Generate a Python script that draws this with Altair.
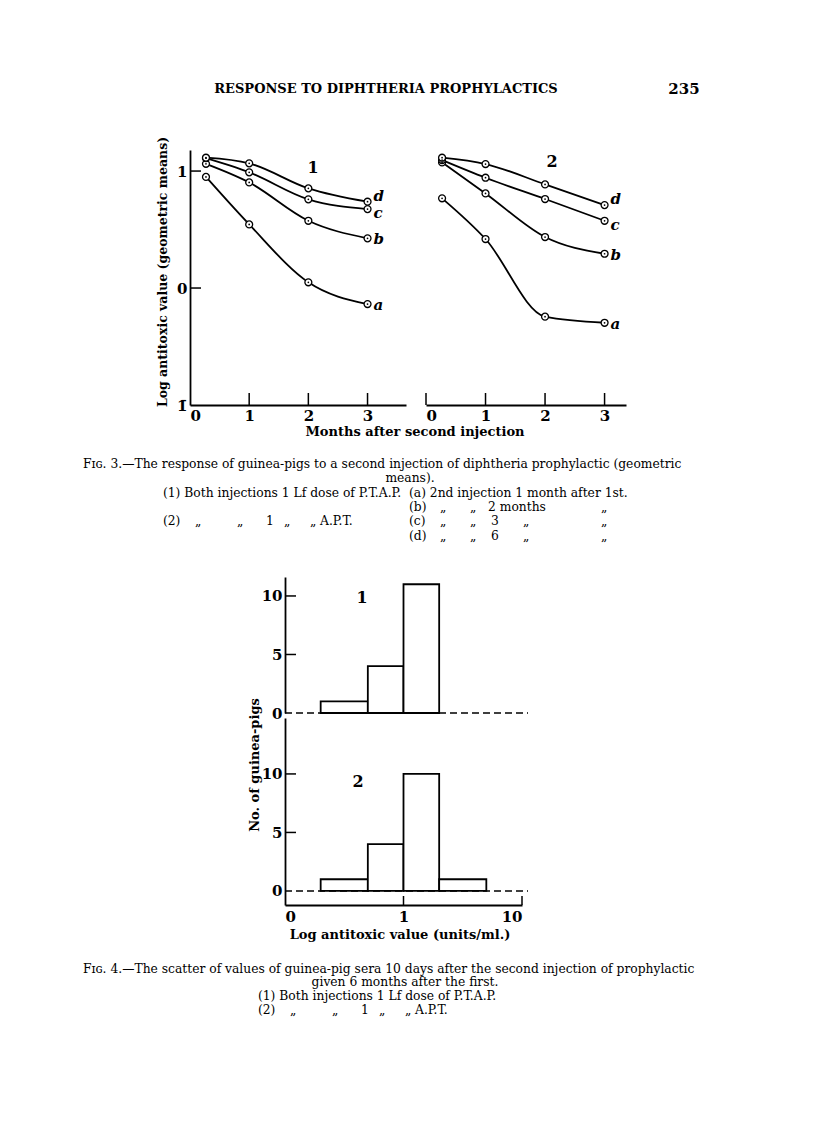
import altair as alt
import pandas as pd

SERIF = "DejaVu Serif"

# ---------------- Fig. 3 data (log antitoxic value, geometric means) ----------------
fig3_months = [0.27, 1, 2, 3]
fig3_series = ["a", "b", "c", "d"]
p1_a = [0.95, 0.544, 0.049, -0.137]
p1_b = [1.062, 0.903, 0.575, 0.425]
p1_c = [1.11, 0.989, 0.758, 0.675]
p1_d = [1.114, 1.066, 0.852, 0.738]
p2_a = [0.767, 0.419, -0.245, -0.297]
p2_b = [1.074, 0.809, 0.436, 0.293]
p2_c = [1.094, 0.943, 0.761, 0.575]
p2_d = [1.114, 1.06, 0.886, 0.709]
fig3_xticks = [0, 1, 2, 3]
fig3_yticks = [-1, 0, 1]
fig3_inner_yticks = [0, 1]

# ---------------- Fig. 4 data (histograms, units/ml on log axis) ----------------
fig4_edges_1 = [0.2, 0.5, 1, 2]
fig4_counts_1 = [1, 4, 11]
fig4_edges_2 = [0.2, 0.5, 1, 2, 5]
fig4_counts_2 = [1, 4, 10, 1]
fig4_xticks = [0.1, 1, 10]
fig4_yticks = [0, 5, 10]
fig4_inner_yticks = [5, 10]
fig4_baseline = [0]

CAP = 12.3
DITTO = "\u201e"


def txt(s, x, y, size=CAP, weight="normal", style="normal", align="left", angle=0):
    return alt.Chart(pd.DataFrame({"t": [s]})).mark_text(
        font=SERIF, fontSize=size, fontWeight=weight, fontStyle=style,
        align=align, baseline="middle", angle=angle, color="black"
    ).encode(text="t:N", x=alt.value(x), y=alt.value(y))


def curve_df(series_vals):
    rows = []
    for s, vals in zip(fig3_series, series_vals):
        for m, v in zip(fig3_months, vals):
            rows.append({"month": m, "value": v, "series": s})
    return pd.DataFrame(rows)


FIG3_H = 255
FIG3_X0 = 182
FIG3_YAXIS = alt.Axis(orient="left", offset=-FIG3_X0, values=fig3_yticks, ticks=False,
                      title=None, labelPadding=3, labelFontSize=15,
                      labelExpr="datum.value == -1 ? '1\u0304' : datum.label")
FIG3_Y = alt.Y("value:Q", scale=alt.Scale(domain=[-1, 1.18], nice=False, zero=False),
               axis=FIG3_YAXIS)
END_DY = {"a": 1, "b": 1, "c": 4, "d": -6}


def fig3_panel(series_vals, xrange, xmax, tick_vals, with_yticks):
    df = curve_df(series_vals)
    x = alt.X("month:Q",
              scale=alt.Scale(domain=[0, xmax], range=xrange, nice=False, zero=False),
              axis=alt.Axis(orient="bottom", values=fig3_xticks, ticks=False, title=None,
                            labelFontSize=15, labelPadding=3))
    y = FIG3_Y
    lines = alt.Chart(df).mark_line(interpolate="monotone", color="black", strokeWidth=1.8).encode(
        x=x, y=y, detail="series:N")
    pts = alt.Chart(df).mark_point(shape="circle", filled=True, fill="white", stroke="black",
                                   strokeWidth=1.3, size=48, opacity=1).encode(x=x, y=y)
    dots = alt.Chart(df).mark_point(shape="circle", filled=True, color="black", size=3,
                                    opacity=1).encode(x=x, y=y)
    last = df[df["month"] == 3]
    ticks = alt.Chart(pd.DataFrame({"month": tick_vals})).mark_rule(
        color="black", strokeWidth=1.5).encode(x=x, y=alt.value(FIG3_H), y2=alt.value(FIG3_H - 12))
    layers = [lines, ticks, pts, dots]
    for s in fig3_series:
        layers.append(alt.Chart(last[last["series"] == s]).mark_text(
            align="left", dx=6, dy=END_DY[s], font=SERIF, fontSize=15, fontStyle="italic",
            fontWeight="bold", color="black").encode(x=x, y=y, text="series:N"))
    if with_yticks:
        ytk = alt.Chart(pd.DataFrame({"value": fig3_inner_yticks})).mark_rule(
            color="black", strokeWidth=1.5).encode(
            y=y, x=alt.value(FIG3_X0), x2=alt.value(FIG3_X0 + 11))
        layers.append(ytk)
    return alt.layer(*layers)


FIG4_X0 = 277
FIG4_XRANGE = [FIG4_X0, FIG4_X0 + 237]
FIG4_XAXIS = alt.Axis(orient="bottom", values=fig4_xticks, ticks=False, title=None,
                      labelFontSize=15, labelPadding=4,
                      labelExpr="datum.value < 0.5 ? '0' : (datum.value < 5 ? '1' : '10')")
FIG4_X = alt.X("lo:Q", scale=alt.Scale(type="log", domain=[0.1, 10], range=FIG4_XRANGE, nice=False),
               axis=FIG4_XAXIS)


def fig4_panel(edges, counts, ydomain, yrange, xticks_inner):
    df = pd.DataFrame({"lo": edges[:-1], "hi": edges[1:], "n": counts,
                       "n0": fig4_baseline * len(counts)})
    x = FIG4_X
    y = alt.Y("n:Q", scale=alt.Scale(domain=ydomain, range=yrange, nice=False, zero=False),
              axis=alt.Axis(orient="left", offset=-FIG4_X0, values=fig4_yticks, ticks=False,
                            title=None, labelPadding=3, labelFontSize=15))
    base = alt.Chart(pd.DataFrame({"n": fig4_baseline})).mark_rule(
        color="black", strokeWidth=1.4, strokeDash=[7, 4]).encode(
        x=alt.value(FIG4_X0), x2=alt.value(FIG4_X0 + 243), y=y)
    bars = alt.Chart(df).mark_rect(fill="white", stroke="black", strokeWidth=1.8, opacity=1).encode(
        x=x, x2="hi:Q", y=y, y2="n0:Q")
    ytk = alt.Chart(pd.DataFrame({"n": fig4_inner_yticks})).mark_rule(
        color="black", strokeWidth=1.5).encode(y=y, x=alt.value(FIG4_X0), x2=alt.value(FIG4_X0 + 11))
    layers = [base, bars, ytk]
    if xticks_inner:
        tk = alt.Chart(pd.DataFrame({"lo": xticks_inner})).mark_rule(color="black", strokeWidth=1.5).encode(
            x=x, y=alt.value(yrange[0]), y2=alt.value(yrange[0] - 9))
        layers.append(tk)
    return alt.layer(*layers)


# ---------------- rows ----------------
row0 = alt.layer(
    txt("RESPONSE  TO  DIPHTHERIA  PROPHYLACTICS", 378, 81, size=13, weight="bold", align="center"),
    txt("235", 676, 81, size=15, weight="bold", align="center"),
).properties(width=700, height=142)

p1 = fig3_panel([p1_a, p1_b, p1_c, p1_d], [FIG3_X0, 398], 3.65, [1, 2, 3], True)
p2 = fig3_panel([p2_a, p2_b, p2_c, p2_d], [418, 618], 3.36, [0, 1, 2, 3], False)
row1 = alt.layer(
    p1, p2,
    txt("1", 305, 18, size=16, weight="bold", align="center"),
    txt("2", 544, 12, size=16, weight="bold", align="center"),
    txt("Log antitoxic value (geometric means)", 155, 122, size=12.5, weight="bold",
        align="center", angle=270),
).resolve_scale(x="independent").properties(width=640, height=FIG3_H)

row2 = alt.layer(
    txt("Months after second injection", 407, 27, size=13, weight="bold", align="center"),
    txt("F\u026a\u0262. 3.\u2014The response of guinea-pigs to a second injection of diphtheria prophylactic (geometric",
        75, 59),
    txt("means).", 402, 73, align="center"),
    txt("(1) Both injections 1 Lf dose of P.T.A.P.", 155, 88),
    txt("(2)", 155, 116), txt(DITTO, 187, 116), txt(DITTO, 229, 116), txt("1", 258, 116),
    txt(DITTO, 276, 116), txt(DITTO, 302, 116), txt("A.P.T.", 312, 116),
    txt("(a) 2nd injection 1 month after 1st.", 401, 88),
    txt("(b)", 401, 102), txt(DITTO, 432, 102), txt(DITTO, 462, 102), txt("2 months", 480, 102),
    txt(DITTO, 593, 102),
    txt("(c)", 401, 116), txt(DITTO, 432, 116), txt(DITTO, 462, 116), txt("3", 483, 116),
    txt(DITTO, 515, 116), txt(DITTO, 593, 116),
    txt("(d)", 401, 131), txt(DITTO, 432, 131), txt(DITTO, 462, 131), txt("6", 483, 131),
    txt(DITTO, 515, 131), txt(DITTO, 593, 131),
).properties(width=700, height=172)

f4a = fig4_panel(fig4_edges_1, fig4_counts_1, [0, 11.62], [136, 0], [])
f4b = fig4_panel(fig4_edges_2, fig4_counts_2, [-1.2, 14.78], [328, 141], [1, 10])
row3 = alt.layer(
    f4a, f4b,
    txt("1", FIG4_X0 + 77, 21, size=16, weight="bold", align="center"),
    txt("2", FIG4_X0 + 73, 205, size=16, weight="bold", align="center"),
    txt("No. of guinea-pigs", 247, 188, size=13, weight="bold", align="center", angle=270),
).resolve_scale(y="independent").properties(width=540, height=328)

row4 = alt.layer(
    txt("Log antitoxic value (units/ml.)", 392, 30, size=13, weight="bold", align="center"),
    txt("F\u026a\u0262. 4.\u2014The scatter of values of guinea-pig sera 10 days after the second injection of prophylactic",
        75, 64),
    txt("given 6 months after the first.", 397, 77, align="center"),
    txt("(1) Both injections 1 Lf dose of P.T.A.P.", 250, 91),
    txt("(2)", 250, 105), txt(DITTO, 282, 105), txt(DITTO, 324, 105), txt("1", 353, 105),
    txt(DITTO, 371, 105), txt(DITTO, 397, 105), txt("A.P.T.", 407, 105),
).properties(width=700, height=223)

chart = alt.vconcat(row0, row1, row2, row3, row4, spacing=0, bounds="flush", padding=0).configure_view(
    stroke=None
).configure_axis(
    domainColor="black", domainWidth=1.8, tickColor="black", tickWidth=1.5,
    labelColor="black", labelFont=SERIF, labelFontWeight="bold", grid=False
)

chart.save("out.html", embed_options={"renderer": "svg", "actions": False})
